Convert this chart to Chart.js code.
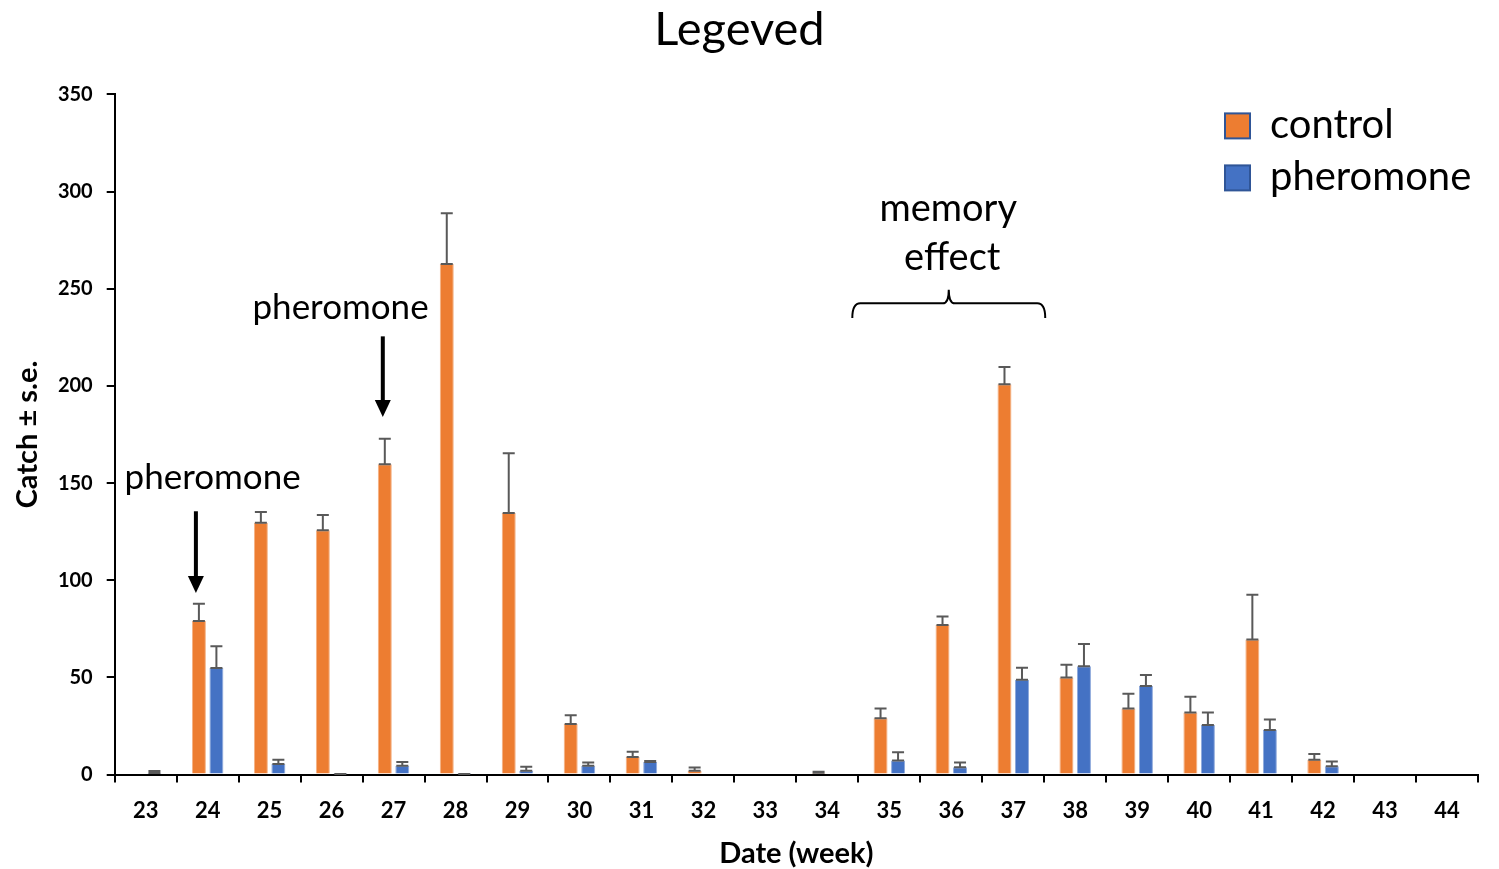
<!DOCTYPE html>
<html>
<head>
<meta charset="utf-8">
<title>Legeved</title>
<script src="https://cdn.jsdelivr.net/npm/chart.js@4.4.1/dist/chart.umd.min.js"></script>
<style>
  html, body { margin: 0; padding: 0; background: #fff; }
  canvas { display: block; }
</style>
</head>
<body>
<canvas id="legevedChart" width="1499" height="869"></canvas>
<script>
// weeks on the x axis
var weeks = ['23', '24', '25', '26', '27', '28', '29', '30', '31', '32', '33',
             '34', '35', '36', '37', '38', '39', '40', '41', '42', '43', '44'];

// mean catch per week
var control = [0, 79, 129.6, 125.7, 159.7, 262.7, 134.6, 26, 9, 2, 0,
               1, 29, 77, 200.8, 50, 34, 32, 69.5, 7.7, 0, 0];
var pheromone = [0.8, 54.8, 5.5, 0.3, 4.5, 0.3, 2, 4.6, 6.5, 0, 0,
                 0, 7.2, 3.8, 48.8, 55.7, 45.6, 25.5, 23, 4.3, 0, 0];

// standard errors (plus side only is drawn)
var controlErr = [0, 8.9, 5.5, 7.9, 13.1, 26.1, 30.7, 4.5, 2.8, 1.6, 0,
                  0.5, 5, 4.4, 8.9, 6.5, 7.6, 8, 23, 2.9, 0, 0];
var pheromoneErr = [1, 11.3, 2.1, 0, 2, 0, 2, 1.6, 0.5, 0, 0,
                    0, 4.3, 2.4, 6.2, 11.5, 5.6, 6.4, 5.3, 2.4, 0, 0];

var yTicks = [0, 50, 100, 150, 200, 250, 300, 350];

var FONT = 'Lato';

// error bars, arrows, brace and the legend
var extras = {
    id: 'extras',
    afterDatasetsDraw: function (chart) {
        var ctx = chart.ctx;
        var x = chart.scales.x;
        var y = chart.scales.y;
        var errs = [controlErr, pheromoneErr];

        ctx.save();
        ctx.strokeStyle = '#595959';
        ctx.lineWidth = 2;
        errs.forEach(function (err, di) {
            var meta = chart.getDatasetMeta(di);
            var vals = chart.data.datasets[di].data;
            meta.data.forEach(function (bar, i) {
                if (!(vals[i] > 0)) return;
                var yv = y.getPixelForValue(vals[i]);
                var yt = y.getPixelForValue(vals[i] + err[i]);
                ctx.beginPath();
                ctx.moveTo(bar.x, yv);
                ctx.lineTo(bar.x, yt);
                ctx.moveTo(bar.x - 6, yv);
                ctx.lineTo(bar.x + 6, yv);
                ctx.moveTo(bar.x - 6, yt);
                ctx.lineTo(bar.x + 6, yt);
                ctx.stroke();
            });
        });
        ctx.restore();

        function arrow(px, fromVal, toVal) {
            var y0 = y.getPixelForValue(fromVal);
            var y1 = y.getPixelForValue(toVal);
            ctx.save();
            ctx.strokeStyle = '#000';
            ctx.fillStyle = '#000';
            ctx.lineWidth = 4;
            ctx.beginPath();
            ctx.moveTo(px, y0);
            ctx.lineTo(px, y1 - 14);
            ctx.stroke();
            ctx.beginPath();
            ctx.moveTo(px - 8, y1 - 17);
            ctx.lineTo(px + 8, y1 - 17);
            ctx.lineTo(px, y1);
            ctx.closePath();
            ctx.fill();
            ctx.restore();
        }

        var bars0 = chart.getDatasetMeta(0).data;

        ctx.save();
        ctx.fillStyle = '#000';
        ctx.font = '35px ' + FONT;
        ctx.textAlign = 'center';
        ctx.textBaseline = 'middle';
        ctx.fillText('pheromone', x.getPixelForValue(1) + 5, y.getPixelForValue(153));
        ctx.fillText('pheromone', x.getPixelForValue(4) - 53, y.getPixelForValue(240));
        ctx.font = '38px ' + FONT;
        ctx.fillText('memory', x.getPixelForValue(13) - 3, y.getPixelForValue(291));
        ctx.fillText('effect', x.getPixelForValue(13) + 1, y.getPixelForValue(266));
        ctx.restore();

        arrow(bars0[1].x - 3, 135.5, 93.5);
        arrow(bars0[4].x - 2, 225.5, 184);

        // curly brace over weeks 35-37
        var bl = (x.getPixelForValue(11) + x.getPixelForValue(12)) / 2 - 6;
        var br = (x.getPixelForValue(14) + x.getPixelForValue(15)) / 2 + 1;
        var bm = (bl + br) / 2;
        var yl = y.getPixelForValue(242.5);
        var yb = y.getPixelForValue(235);
        var yp = y.getPixelForValue(249.5);
        ctx.save();
        ctx.strokeStyle = '#000';
        ctx.lineWidth = 2;
        ctx.beginPath();
        ctx.moveTo(bl, yb);
        ctx.quadraticCurveTo(bl, yl, bl + 8, yl);
        ctx.lineTo(bm - 6, yl);
        ctx.quadraticCurveTo(bm, yl, bm, yp);
        ctx.quadraticCurveTo(bm, yl, bm + 6, yl);
        ctx.lineTo(br - 8, yl);
        ctx.quadraticCurveTo(br, yl, br, yb);
        ctx.stroke();
        ctx.restore();

        // legend
        var lx = chart.chartArea.right - 253;
        var ly = chart.chartArea.top + 19;
        ctx.save();
        ctx.font = '40px ' + FONT;
        ctx.textBaseline = 'middle';
        chart.data.datasets.forEach(function (ds, i) {
            var cy = ly + 12 + i * 52;
            ctx.fillStyle = ds.backgroundColor;
            ctx.fillRect(lx, cy - 12, 25, 25);
            ctx.strokeStyle = '#2F5597';
            ctx.lineWidth = 2;
            ctx.strokeRect(lx, cy - 12, 25, 25);
            ctx.fillStyle = '#000';
            ctx.fillText(ds.label, lx + 45, cy);
        });
        ctx.restore();
    }
};

new Chart(document.getElementById('legevedChart'), {
    type: 'bar',
    data: {
        labels: weeks,
        datasets: [{
            label: 'control',
            data: control,
            backgroundColor: '#ED7D31',
            borderColor: '#F4B183',
            borderWidth: 1,
            categoryPercentage: 0.565,
            barPercentage: 0.8
        }, {
            label: 'pheromone',
            data: pheromone,
            backgroundColor: '#4472C4',
            borderColor: '#8FAADC',
            borderWidth: 1,
            categoryPercentage: 0.565,
            barPercentage: 0.8
        }]
    },
    options: {
        responsive: false,
        animation: false,
        devicePixelRatio: 1,
        layout: { padding: { left: 1, right: 21, top: 0, bottom: 0 } },
        plugins: {
            legend: { display: false },
            tooltip: { enabled: false },
            title: {
                display: true,
                text: 'Legeved',
                color: '#000',
                font: { family: FONT, size: 47, weight: 'normal' },
                padding: { top: 2, bottom: 36 }
            }
        },
        scales: {
            x: {
                border: { color: '#000', width: 2 },
                grid: { drawOnChartArea: false, tickLength: 8, color: '#000', lineWidth: 2, offset: true },
                ticks: { color: '#000', font: { family: FONT, size: 22, weight: 'bold' }, padding: 15 },
                title: {
                    display: true,
                    text: 'Date (week)',
                    color: '#000',
                    font: { family: FONT, size: 29, weight: 'bold', lineHeight: 1 },
                    padding: { top: 0, bottom: 1 }
                }
            },
            y: {
                min: 0,
                max: 350,
                afterBuildTicks: function (axis) {
                    axis.ticks = yTicks.map(function (v) { return { value: v }; });
                },
                border: { color: '#000', width: 2 },
                grid: { drawOnChartArea: false, tickLength: 8, color: '#000', lineWidth: 2 },
                ticks: { color: '#000', font: { family: FONT, size: 20, weight: 'bold' }, padding: 14 },
                title: {
                    display: true,
                    text: 'Catch ± s.e.',
                    color: '#000',
                    font: { family: FONT, size: 29, weight: 'bold', lineHeight: 1.1 },
                    padding: { top: 11, bottom: 0 }
                }
            }
        }
    },
    plugins: [extras]
});
</script>
</body>
</html>
